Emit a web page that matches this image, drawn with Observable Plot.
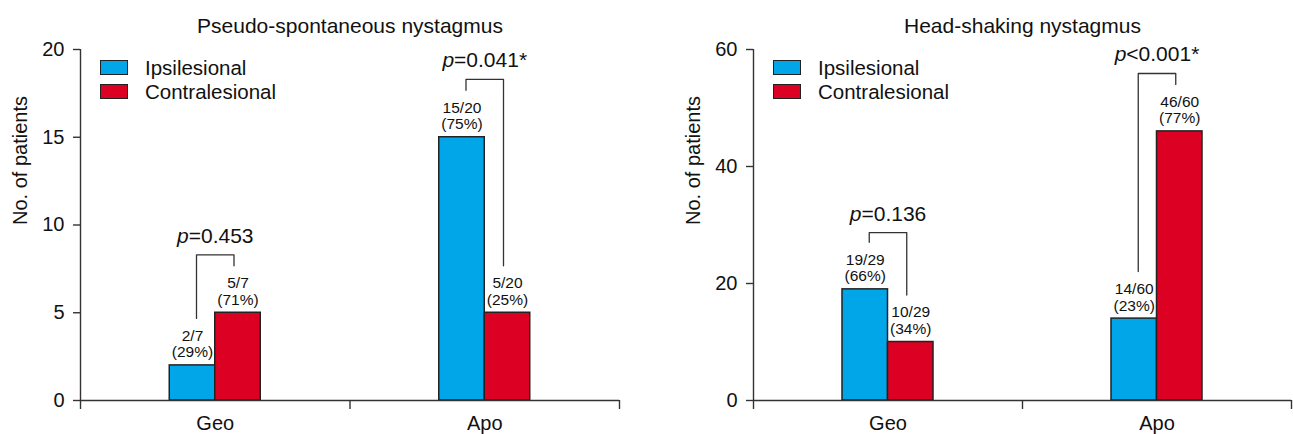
<!DOCTYPE html>
<html><head><meta charset="utf-8">
<script src="https://cdn.jsdelivr.net/npm/d3@7"></script>
<script src="https://cdn.jsdelivr.net/npm/@observablehq/plot@0.6"></script>
<style>
body{margin:0;background:#fff;font-family:"Liberation Sans",Arial,sans-serif;}
#wrap{display:flex;width:1293px;height:434px;}
.panel{position:relative;}
.legend{position:absolute;font-size:20.5px;color:#111;}
.row{height:24px;line-height:24px;display:flex;align-items:flex-start;white-space:nowrap;}
.sw{width:28px;height:15px;box-sizing:border-box;border:1.5px solid #222;margin-top:4px;margin-right:17px;}
</style></head><body><div id="wrap"></div>
<script>
const groups = ["Geo", "Apo"];
const seriesNames = ["Ipsilesional", "Contralesional"];
const colors = ["#00a6e8", "#dc0023"];

// Panel A: Pseudo-spontaneous nystagmus
const titleA = "Pseudo-spontaneous nystagmus";
const ipsiA = [2, 15];
const contraA = [5, 5];
const totalA = [7, 20];
const pTextA = ["=0.453", "=0.041*"];
const bracketTopA = [8.3, 18.3];
const yTicksA = [0, 5, 10, 15, 20];

// Panel B: Head-shaking nystagmus
const titleB = "Head-shaking nystagmus";
const ipsiB = [19, 14];
const contraB = [10, 46];
const totalB = [29, 60];
const pTextB = ["=0.136", "<0.001*"];
const bracketTopB = [28.7, 55.9];
const yTicksB = [0, 20, 40, 60];

const yLabel = "No. of patients";
const FONT = "'Liberation Sans', Arial, sans-serif";

const ctx = document.createElement("canvas").getContext("2d");
function tw(s, font) { ctx.font = font; return ctx.measureText(s).width; }

function panel({title, ipsi, contra, total, pText, bracketTop, yTicks, width, marginLeft, marginRight}) {
  const height = 434, marginTop = 49, marginBottom = 34;
  const yMax = d3.max(yTicks);
  const xDomain = [-0.5, groups.length - 0.5];
  const pxX = (width - marginLeft - marginRight) / (xDomain[1] - xDomain[0]);
  const pxY = (height - marginTop - marginBottom) / yMax;
  const bw = 45.5 / pxX;
  const rows = [];
  groups.forEach((g, i) => {
    rows.push({gi: i, s: 0, v: ipsi[i], n: total[i]});
    rows.push({gi: i, s: 1, v: contra[i], n: total[i]});
  });
  rows.forEach(d => {
    d.x1 = d.gi + (d.s === 0 ? -bw : 0);
    d.x2 = d.x1 + bw;
    d.xc = (d.x1 + d.x2) / 2;
    d.series = seriesNames[d.s];
    d.label = `${d.v}/${d.n}\n(${Math.round(d.v / d.n * 100)}%)`;
  });
  const leg = 18.75 / pxX, clear = 47 / pxY;
  const bracket = [];
  groups.forEach((g, i) => {
    const xl = i - leg, xr = i + leg;
    bracket.push({gi: i, x: xl, y: ipsi[i] + clear}, {gi: i, x: xl, y: bracketTop[i]},
                 {gi: i, x: xr, y: bracketTop[i]}, {gi: i, x: xr, y: contra[i] + clear});
  });
  const pFont = `21px ${FONT}`;
  const pRows = groups.map((g, i) => {
    const a = tw("p", "italic " + pFont), b = tw(pText[i], pFont);
    return {x: i + (-(a + b) / 2 + a) / pxX, y: bracketTop[i], rest: pText[i]};
  });

  const plot = Plot.plot({
    width, height, marginTop, marginBottom, marginLeft, marginRight,
    x: {domain: xDomain},
    y: {domain: [0, yMax]},
    color: {domain: seriesNames, range: colors},
    style: {fontFamily: FONT, fontSize: "20px", color: "#111", background: "white", overflow: "visible"},
    marks: [
      Plot.rect(rows, {x1: "x1", x2: "x2", y1: () => 0, y2: "v", fill: "series", stroke: "#222", strokeWidth: 1.5}),
      Plot.ruleY([0], {stroke: "#333", strokeWidth: 1.4}),
      Plot.ruleX([xDomain[0]], {stroke: "#333", strokeWidth: 1.4}),
      Plot.axisY({ticks: yTicks, tickSize: 7, tickPadding: 9, label: null, fontSize: 20, stroke: "#333", strokeWidth: 1.4}),
      Plot.axisX({ticks: d3.range(xDomain[0], xDomain[1] + 0.01, 1), tickSize: 9, tickFormat: () => "", label: null, stroke: "#333", strokeWidth: 1.4}),
      Plot.axisX({ticks: d3.range(groups.length), tickSize: 0, tickPadding: 15, tickFormat: i => groups[i], label: null, fontSize: 20}),
      Plot.text(rows, {x: "xc", y: "v", text: "label", lineAnchor: "bottom", dy: -8, fontSize: 15.5, lineHeight: 1.08}),
      Plot.line(bracket, {x: "x", y: "y", z: "gi", stroke: "#333", strokeWidth: 1.3}),
      Plot.text(pRows, {x: "x", y: "y", text: () => "p", fontStyle: "italic", textAnchor: "end", lineAnchor: "bottom", dy: -12, fontSize: 21}),
      Plot.text(pRows, {x: "x", y: "y", text: "rest", textAnchor: "start", lineAnchor: "bottom", dy: -12, fontSize: 21}),
      Plot.text([title], {frameAnchor: "top", text: d => d, lineAnchor: "bottom", dy: -17, fontSize: 21}),
      Plot.text([yLabel], {frameAnchor: "left", text: d => d, rotate: -90, dx: -60, fontSize: 20})
    ]
  });
  const div = document.createElement("div");
  div.className = "panel";
  div.style.width = width + "px";
  div.appendChild(plot);
  const lg = document.createElement("div");
  lg.className = "legend";
  lg.style.left = (marginLeft + 20) + "px";
  lg.style.top = "56px";
  seriesNames.forEach((s, k) => {
    const r = document.createElement("div"); r.className = "row";
    const sw = document.createElement("div"); sw.className = "sw"; sw.style.background = colors[k];
    const t = document.createElement("span"); t.textContent = s;
    r.appendChild(sw); r.appendChild(t); lg.appendChild(r);
  });
  div.appendChild(lg);
  return div;
}

const wrap = document.getElementById("wrap");
wrap.appendChild(panel({title: titleA, ipsi: ipsiA, contra: contraA, total: totalA, pText: pTextA, bracketTop: bracketTopA, yTicks: yTicksA, width: 646, marginLeft: 80, marginRight: 27}));
wrap.appendChild(panel({title: titleB, ipsi: ipsiB, contra: contraB, total: totalB, pText: pTextB, bracketTop: bracketTopB, yTicks: yTicksB, width: 647, marginLeft: 107, marginRight: 2}));
</script>
</body></html>
